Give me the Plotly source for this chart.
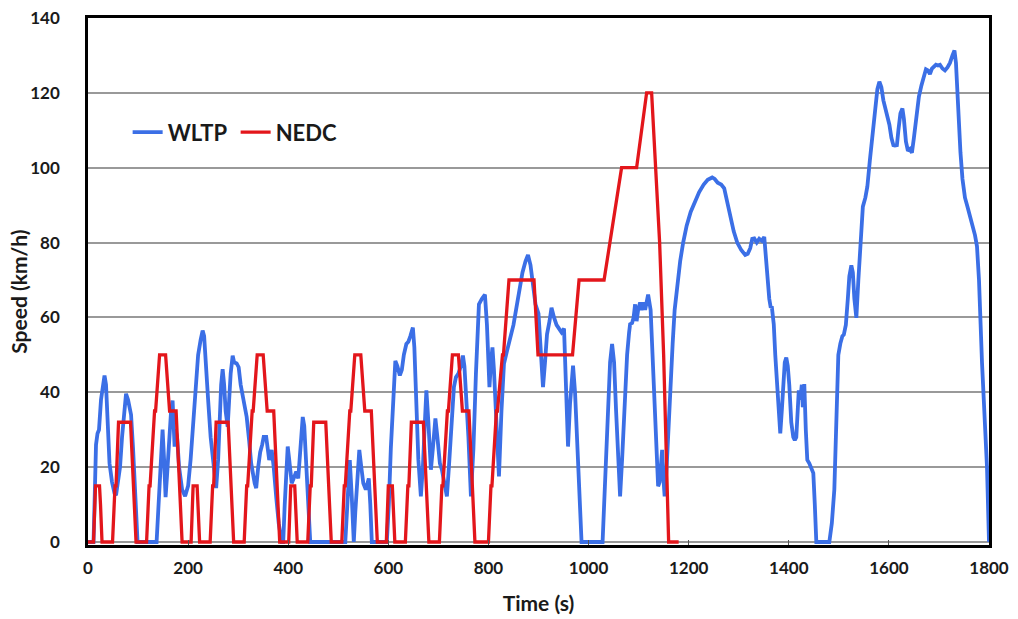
import plotly.graph_objects as go

# ---------------- WLTP (class 3) speed trace ----------------
wltp_t = [
    0, 11, 13, 16, 19, 22, 26, 30, 33, 36, 40, 43, 48, 53, 56, 60, 64, 68, 72, 76,
    80, 86, 90, 94, 99, 137, 141, 145, 149, 152, 155, 158, 162, 166, 169, 171, 173,
    175, 178, 182, 188, 194, 200, 205, 210, 215, 220, 225, 229, 232, 236, 240, 245,
    251, 256, 260, 263, 266, 269, 272, 275, 279, 282, 285, 289, 292, 297, 301, 305,
    310, 317, 322, 326, 333, 336, 340, 344, 348, 351, 356, 359, 362, 367, 371, 376,
    381, 387, 390, 393, 396, 399, 402, 407, 411, 416, 420, 423, 426, 429, 432, 436,
    440, 444, 514, 518, 523, 527, 531, 534, 538, 542, 546, 550, 555, 561, 564, 567,
    597, 601, 605, 609, 614, 618, 623, 627, 631, 636, 640, 644, 649, 652, 656, 660,
    665, 669, 673, 676, 680, 685, 689, 694, 698, 703, 707, 712, 717, 721, 726, 731,
    735, 740, 745, 749, 752, 756, 760, 765, 770, 775, 778, 781, 787, 793, 797, 802,
    805, 808, 811, 815, 818, 821, 826, 831, 837, 844, 850, 857, 863, 868, 874, 879,
    884, 889, 894, 900, 904, 909, 913, 917, 922, 926, 931, 936, 941, 946, 951, 955,
    959, 963, 969, 973, 977, 981, 986, 1028, 1033, 1038, 1043, 1047, 1051, 1055,
    1059, 1063, 1067, 1072, 1077, 1081, 1083, 1087, 1090, 1093, 1096, 1099, 1103,
    1106, 1110, 1113, 1119, 1124, 1127, 1130, 1133, 1136, 1139, 1142, 1145, 1147,
    1149, 1152, 1156, 1160, 1164, 1168, 1172, 1177, 1183, 1189, 1196, 1204, 1212,
    1221, 1230, 1238, 1247, 1252, 1258, 1265, 1271, 1277, 1283, 1290, 1297, 1305,
    1313, 1318, 1323, 1327, 1331, 1336, 1341, 1346, 1351, 1355, 1358, 1361, 1364,
    1366, 1368, 1370, 1373, 1377, 1380, 1383, 1386, 1389, 1392, 1395, 1398, 1401,
    1405, 1409, 1412, 1415, 1417, 1420, 1423, 1426, 1428, 1431, 1434, 1437, 1441,
    1444, 1449, 1452, 1455, 1481, 1486, 1491, 1495, 1499, 1503, 1507, 1510, 1514,
    1518, 1521, 1525, 1528, 1531, 1535, 1539, 1543, 1548, 1553, 1557, 1562, 1567,
    1572, 1577, 1581, 1585, 1589, 1593, 1597, 1601, 1605, 1609, 1612, 1616, 1619,
    1623, 1627, 1630, 1634, 1638, 1642, 1646, 1650, 1655, 1660, 1665, 1670, 1674,
    1678, 1682, 1686, 1690, 1694, 1698, 1702, 1707, 1712, 1717, 1722, 1727, 1731,
    1734, 1737, 1740, 1743, 1747, 1752, 1757, 1762, 1767, 1772, 1776, 1780, 1786,
    1792, 1796, 1800,
]
wltp_v = [
    0, 0, 10, 26, 29, 30, 38, 43, 44.5, 42, 30, 21, 16, 13, 12.5, 16, 20, 28, 35, 39.6,
    38, 34, 25, 12, 0, 0, 10, 22, 30, 22, 12, 18, 28, 35, 37.8, 33, 25.5,
    30, 28, 20, 14, 12.2, 15, 22, 32, 42, 50, 54, 56.5, 55, 48, 38, 28,
    21, 14.4, 22, 33, 42, 46.2, 42, 35, 30.8, 38, 45, 49.8, 48, 47.7, 46.7, 42,
    38, 33.4, 27, 21, 15.7, 14.4, 20, 24, 26, 28.1, 28.1, 25, 21.9, 24.6, 20, 12,
    5, 0, 0, 10, 21, 25.5, 22, 15.7, 17, 18.8, 17, 22, 30, 33.4, 31, 20,
    8, 0, 0, 12, 21.9, 12, 0, 8, 18, 24.6, 20, 15.7, 14, 17, 10, 0,
    0, 10, 25, 38, 48.4, 47, 44.5, 46, 50, 52.9, 53.5, 55, 57.3, 52, 35.2, 22,
    12.2, 20, 32, 40.5, 32, 19.3, 25, 33, 28, 21, 19.3, 16, 12.2, 20, 32, 41.4,
    44, 45, 47, 49.8, 47, 38, 28, 12.2, 25, 45, 56, 63.5, 65, 66.1, 58, 41.4,
    48, 52, 46, 35, 25, 17.5, 35, 47.6, 51, 54.6, 58, 63.5, 68, 72, 75, 76.7,
    74, 68, 63.5, 61, 52, 41.4, 48, 55.5, 59, 62.6, 60, 58, 57, 56, 57, 40,
    25.5, 37, 47.1, 40, 28, 15, 0, 0, 15, 35, 48, 52.9, 48, 35,
    22, 12.2, 22, 38, 50, 56, 58.2, 58.5, 60, 63.5, 59, 62, 64,
    62, 64, 62, 66.1, 62, 52, 40.5, 30, 20, 14.9, 16, 22, 24.6,
    18, 12.2, 20, 32, 42, 53, 62, 68, 75, 80, 84.5, 88.2, 91,
    93.5, 95.5, 96.8, 97.4, 97, 96, 95.5, 94.5, 91, 86.4, 83, 80, 78,
    76.7, 77, 78.5, 81, 81.1, 80, 81, 80.5, 81.5, 76, 70, 65, 62.6,
    63, 60, 58.2, 50, 40, 32, 29, 35, 43, 48, 49.3, 47, 42,
    32, 28, 27.2, 28, 35, 40.5, 38, 42, 36, 42.2, 30, 21.9, 21,
    20, 18.4, 10, 0, 0, 5, 14, 32, 50, 53, 55, 55.4, 58,
    65, 71, 73.9, 72, 65, 59.9, 70, 80, 89.6, 92, 95, 102, 109,
    116, 121, 123, 121.5, 118, 116, 114, 111.5, 108, 106, 105.9, 106, 110,
    114.5, 115.8, 113, 107, 104.5, 105, 104, 108, 114, 119, 122, 125, 126.3,
    126, 125, 126.5, 127.2, 127.5, 127.3, 127.5, 126.5, 126, 126.8, 128, 130, 131.3,
    128, 118, 110, 104, 97, 92, 89.6, 87, 85, 82, 79, 70, 48,
    28, 20, 0,
]

# ---------------- NEDC speed trace (4 x ECE-15 + EUDC) ----------------
nedc_t = [
    0, 11, 15, 23, 25, 28, 49, 54, 56, 61, 85, 93, 96, 117, 122, 124, 133, 135, 143, 155, 163, 176, 185, 188,
    206, 210, 218, 220, 223, 244, 249, 251, 256, 280, 288, 291, 312, 317, 319, 328, 330, 338, 350, 358, 371, 380, 383,
    401, 405, 413, 415, 418, 439, 444, 446, 451, 475, 483, 486, 507, 512, 514, 523, 525, 533, 545, 553, 566, 575, 578,
    596, 600, 608, 610, 613, 634, 639, 641, 646, 670, 678, 681, 702, 707, 709, 718, 720, 728, 740, 748, 761, 770, 773,
    800, 805, 807, 816, 818, 828, 830, 841, 891, 899, 968, 981, 1031, 1066, 1096, 1116, 1126, 1142, 1150, 1160, 1180,
]
nedc_v = [
    0, 0, 15, 15, 10, 0, 0, 15, 15, 32, 32, 10, 0, 0, 15, 15, 35, 35, 50, 50, 35, 35, 10, 0,
    0, 15, 15, 10, 0, 0, 15, 15, 32, 32, 10, 0, 0, 15, 15, 35, 35, 50, 50, 35, 35, 10, 0,
    0, 15, 15, 10, 0, 0, 15, 15, 32, 32, 10, 0, 0, 15, 15, 35, 35, 50, 50, 35, 35, 10, 0,
    0, 15, 15, 10, 0, 0, 15, 15, 32, 32, 10, 0, 0, 15, 15, 35, 35, 50, 50, 35, 35, 10, 0,
    0, 15, 15, 35, 35, 50, 50, 70, 70, 50, 50, 70, 70, 100, 100, 120, 120, 80, 50, 0, 0,
]

x_ticks = [0, 200, 400, 600, 800, 1000, 1200, 1400, 1600, 1800]
y_ticks = [0, 20, 40, 60, 80, 100, 120, 140]

FONT = "Lato"
BLUE = "#3b6fe6"
RED = "#e3161b"
TXT = "#1a1a1a"

fig = go.Figure()
fig.add_trace(go.Scatter(x=wltp_t, y=wltp_v, mode="lines", name="WLTP",
                         line=dict(color=BLUE, width=3.8)))
fig.add_trace(go.Scatter(x=nedc_t, y=nedc_v, mode="lines", name="NEDC",
                         line=dict(color=RED, width=3.3)))

fig.update_layout(
    width=1018, height=619,
    margin=dict(l=88, r=29, t=18, b=74),
    paper_bgcolor="white", plot_bgcolor="white",
    font=dict(family=FONT, color=TXT),
    showlegend=True,
    legend=dict(orientation="h", x=0.044, xanchor="left", y=0.783, yanchor="middle",
                bgcolor="rgba(0,0,0,0)", font=dict(family=FONT, size=22, weight="bold", color=TXT),
                itemwidth=30, tracegroupgap=0, entrywidth=63, entrywidthmode="pixels"),
    annotations=[dict(text="Speed (km/h)", textangle=-90, xref="paper", yref="paper",
                      x=-0.078, y=0.48, xanchor="center", yanchor="middle", showarrow=False,
                      font=dict(family=FONT, size=21, weight="bold", color=TXT))],
)
fig.update_xaxes(
    range=[0, 1800], tickvals=x_ticks, ticktext=[str(v) for v in x_ticks],
    showgrid=False, zeroline=False, automargin=False,
    showline=True, linecolor="black", linewidth=2.5, mirror=True,
    ticks="inside", ticklen=5, tickwidth=1, tickcolor="#555555",
    tickfont=dict(family=FONT, size=17, weight="bold", color=TXT),
    ticklabelstandoff=6,
    title=dict(text="Time (s)", font=dict(family=FONT, size=21, weight="bold", color=TXT), standoff=20),
)
fig.update_yaxes(
    range=[-0.8, 140], tickvals=y_ticks, ticktext=[str(v) for v in y_ticks],
    showgrid=True, gridcolor="#999999", gridwidth=1.5, zeroline=False, automargin=False,
    showline=True, linecolor="black", linewidth=2.5, mirror=True,
    ticks="", tickfont=dict(family=FONT, size=17, weight="bold", color=TXT),
    ticklabelstandoff=22,
)

fig.write_html("out.html")
